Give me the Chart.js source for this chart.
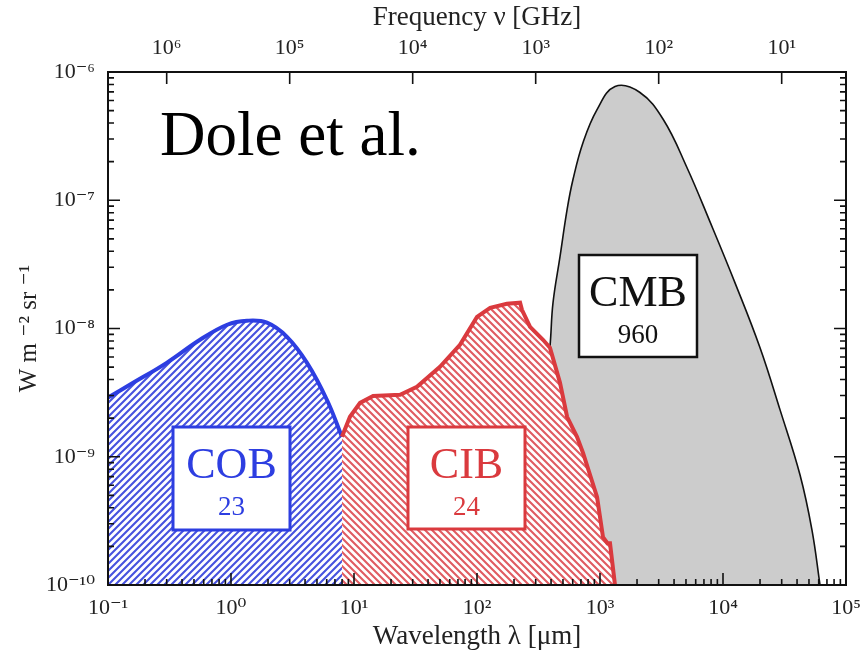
<!DOCTYPE html>
<html><head><meta charset="utf-8">
<script src="https://cdn.jsdelivr.net/npm/chart.js@4.4.1/dist/chart.umd.min.js"></script>
<style>html,body{margin:0;padding:0;background:#fff}#wrap{width:867px;height:657px;position:relative}</style>
</head><body><div id="wrap"><canvas id="c"></canvas></div>
<script>
// ---- data ----
const cobWavelength = [0.1, 0.16, 0.30, 0.56, 0.93, 1.35, 1.96, 2.85, 4.15, 6.03, 7.98];
const cobFlux = [2.9e-9, 3.77e-9, 5.4e-9, 8.17e-9, 1.07e-8, 1.15e-8, 1.11e-8, 8.61e-9, 5.4e-9, 2.77e-9, 1.43e-9];

const cibWavelength = [7.98, 9.27, 11.2, 14.3, 23.7, 32.5, 50, 72.7, 100, 128, 175, 224, 232, 270, 344, 392, 473, 540, 650, 728, 946, 1058, 1150, 1206, 1324];
const cibFlux = [1.43e-9, 2.05e-9, 2.63e-9, 2.98e-9, 3.04e-9, 3.51e-9, 5.02e-9, 7.46e-9, 1.23e-8, 1.45e-8, 1.56e-8, 1.59e-8, 1.40e-8, 1.03e-8, 8.17e-9, 7.07e-9, 3.77e-9, 2.05e-9, 1.43e-9, 1.07e-9, 4.86e-10, 2.36e-10, 2.12e-10, 2.12e-10, 1e-10];

const cmbWavelength = [270, 325, 392, 415, 473, 540, 603, 728, 946, 1324, 2100, 3270, 5090, 7830, 12500, 20000, 29100, 42300, 52900, 61500];
const cmbFlux = [1e-10, 1.13e-9, 7.2e-9, 1.59e-8, 3.63e-8, 8.45e-8, 1.45e-7, 2.82e-7, 5.09e-7, 7.71e-7, 6.95e-7, 4.26e-7, 1.80e-7, 6.81e-8, 2.28e-8, 7.08e-9, 2.32e-9, 7.21e-10, 2.68e-10, 1e-10];

const wavelengthTicks = [0.1, 1, 10, 100, 1000, 1e4, 1e5];
const wavelengthTickLabels = ['10⁻¹', '10⁰', '10¹', '10²', '10³', '10⁴', '10⁵'];
const frequencyTicks = [1e6, 1e5, 1e4, 1e3, 1e2, 1e1];
const frequencyTickLabels = ['10⁶', '10⁵', '10⁴', '10³', '10²', '10¹'];
const fluxTicks = [1e-10, 1e-9, 1e-8, 1e-7, 1e-6];
const fluxTickLabels = ['10⁻¹⁰', '10⁻⁹', '10⁻⁸', '10⁻⁷', '10⁻⁶'];

const bandLabels = ['COB', 'CIB', 'CMB'];
const bandValues = ['23', '24', '960'];

// ---- helpers ----
const SERIF = '"Liberation Serif", "DejaVu Serif", serif';
function toXY(xs, ys) { return xs.map((x, i) => ({ x: x, y: ys[i] })); }
function hatch(color, dir) {
  const s = 7, c = document.createElement('canvas');
  c.width = s; c.height = s;
  const g = c.getContext('2d');
  g.fillStyle = '#fff'; g.fillRect(0, 0, s, s);
  g.strokeStyle = color; g.lineWidth = 2.1; g.lineCap = 'square';
  g.beginPath();
  if (dir === '/') {
    g.moveTo(0, s); g.lineTo(s, 0);
    g.moveTo(-1, 1); g.lineTo(1, -1);
    g.moveTo(s - 1, s + 1); g.lineTo(s + 1, s - 1);
  } else {
    g.moveTo(0, 0); g.lineTo(s, s);
    g.moveTo(-1, s - 1); g.lineTo(1, s + 1);
    g.moveTo(s - 1, -1); g.lineTo(s + 1, 1);
  }
  g.stroke();
  return g.createPattern(c, 'repeat');
}
const ctx = document.getElementById('c').getContext('2d');
const BLUE = 'rgb(45,62,225)', RED = 'rgb(218,58,62)';
function decadeTicks(values) { return function (scale) { scale.ticks = values.map(v => ({ value: v })); }; }
function labelFor(values, labels) { return function (v) { const i = values.findIndex(t => Math.abs(Math.log10(t) - Math.log10(v)) < 1e-6); return i >= 0 ? labels[i] : ''; }; }

const framePlugin = {
  id: 'frame',
  afterDatasetsDraw(chart) {
    const { ctx, chartArea: a, scales } = chart;
    const x = scales.x, y = scales.y, x2 = scales.x2;
    ctx.save();
    ctx.strokeStyle = '#111'; ctx.lineWidth = 1.6;
    ctx.beginPath();
    for (let n = -1; n <= 5; n++) {
      for (let k = 1; k <= 9; k++) {
        const v = k * Math.pow(10, n);
        if (v < x.min * 0.999 || v > x.max * 1.001) continue;
        const px = x.getPixelForValue(v), L = k === 1 ? 12 : 6;
        ctx.moveTo(px, a.bottom); ctx.lineTo(px, a.bottom - L);
      }
    }
    for (let n = -10; n <= -6; n++) {
      for (let k = 1; k <= 9; k++) {
        const v = k * Math.pow(10, n);
        if (v < y.min * 0.999 || v > y.max * 1.001) continue;
        const py = y.getPixelForValue(v), L = k === 1 ? 12 : 6;
        ctx.moveTo(a.left, py); ctx.lineTo(a.left + L, py);
        ctx.moveTo(a.right, py); ctx.lineTo(a.right - L, py);
      }
    }
    frequencyTicks.forEach(v => {
      const px = x2.getPixelForValue(v);
      ctx.moveTo(px, a.top); ctx.lineTo(px, a.top + 12);
    });
    ctx.stroke();
    ctx.lineWidth = 2;
    ctx.strokeRect(a.left, a.top, a.right - a.left, a.bottom - a.top);
    ctx.restore();
  },
  afterDraw(chart) {
    const c = chart.ctx;
    c.save();
    c.fillStyle = '#000';
    c.font = '63px ' + SERIF;
    c.textBaseline = 'alphabetic'; c.textAlign = 'left';
    c.fillText('Dole et al.', 160, 155);
    const boxes = [
      { x: 173, y: 427, w: 117, h: 103, color: BLUE },
      { x: 408, y: 427, w: 117, h: 102, color: RED },
      { x: 579, y: 255, w: 118, h: 102, color: '#111' }
    ];
    boxes.forEach((b, i) => {
      c.fillStyle = '#fff';
      c.fillRect(b.x, b.y, b.w, b.h);
      c.strokeStyle = b.color; c.lineWidth = i === 2 ? 2.5 : 3;
      c.strokeRect(b.x, b.y, b.w, b.h);
      c.fillStyle = b.color;
      c.textAlign = 'center';
      c.font = '44px ' + SERIF;
      c.fillText(bandLabels[i], b.x + b.w / 2, b.y + 51);
      c.font = '27px ' + SERIF;
      c.fillText(bandValues[i], b.x + b.w / 2, b.y + 88);
    });
    c.restore();
  }
};

new Chart(ctx, {
  type: 'line',
  data: {
    datasets: [
      {
        label: 'CMB', data: toXY(cmbWavelength, cmbFlux),
        borderColor: '#111', borderWidth: 1.6, backgroundColor: 'rgb(204,204,204)',
        fill: 'start', pointRadius: 0, tension: 0.4, order: 3
      },
      {
        label: 'COB', data: toXY(cobWavelength, cobFlux),
        borderColor: BLUE, borderWidth: 4, backgroundColor: hatch('rgb(70,82,222)', '/'),
        fill: 'start', pointRadius: 0, tension: 0.4, order: 2
      },
      {
        label: 'CIB', data: toXY(cibWavelength, cibFlux),
        borderColor: RED, borderWidth: 4, backgroundColor: hatch('rgb(224,92,98)', '\\'),
        fill: 'start', pointRadius: 0, tension: 0, order: 1
      }
    ]
  },
  options: {
    responsive: true, maintainAspectRatio: false, animation: false,
    layout: { padding: { left: 0, right: 21, top: 0, bottom: 0 } },
    plugins: { legend: { display: false }, tooltip: { enabled: false } },
    scales: {
      x: {
        type: 'logarithmic', position: 'bottom', min: 0.1, max: 1e5,
        afterBuildTicks: decadeTicks(wavelengthTicks),
        afterFit: s => { s.height = 72; },
        grid: { display: false }, border: { display: false },
        ticks: { callback: labelFor(wavelengthTicks, wavelengthTickLabels), autoSkip: false, maxRotation: 0, padding: 2, color: '#222', font: { family: SERIF, size: 22 } },
        title: { display: true, text: 'Wavelength λ [μm]', color: '#222', padding: { top: 0, bottom: 4 }, font: { family: SERIF, size: 27 } }
      },
      x2: {
        type: 'logarithmic', position: 'top', min: 3, max: 3e6, reverse: true,
        afterBuildTicks: decadeTicks(frequencyTicks),
        afterFit: s => { s.height = 72; },
        grid: { display: false }, border: { display: false },
        ticks: { callback: labelFor(frequencyTicks, frequencyTickLabels), autoSkip: false, maxRotation: 0, padding: 3, color: '#222', font: { family: SERIF, size: 22 } },
        title: { display: true, text: 'Frequency ν [GHz]', color: '#222', padding: { top: 2, bottom: 0 }, font: { family: SERIF, size: 27 } }
      },
      y: {
        type: 'logarithmic', position: 'left', min: 1e-10, max: 1e-6,
        afterBuildTicks: decadeTicks(fluxTicks),
        afterFit: s => { s.width = 108; },
        grid: { display: false }, border: { display: false },
        ticks: { callback: labelFor(fluxTicks, fluxTickLabels), autoSkip: false, padding: 5, color: '#222', font: { family: SERIF, size: 22 } },
        title: { display: true, text: 'W m ⁻² sr ⁻¹', color: '#222', padding: { top: 14, bottom: 0 }, font: { family: SERIF, size: 25 } }
      }
    }
  },
  plugins: [framePlugin]
});
</script></body></html>
